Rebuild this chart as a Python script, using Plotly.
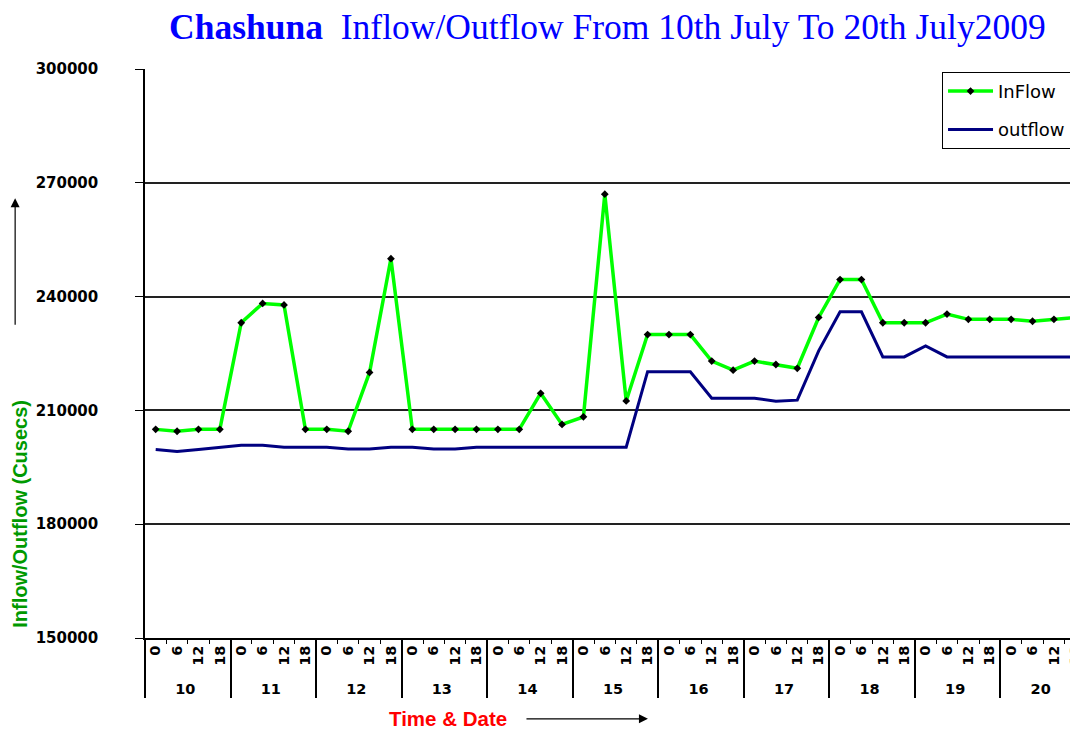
import plotly.graph_objects as go

days = [str(d) for d in range(10, 21)]
hours = ["0", "6", "12", "18"]

inflow = [
    205000, 204500, 205000, 205000,   # 10
    233100, 238200, 237800, 205000,   # 11
    205000, 204500, 220000, 250000,   # 12
    205000, 205000, 205000, 205000,   # 13
    205000, 205000, 214500, 206300,   # 14
    208300, 267000, 212500, 230000,   # 15
    230000, 230000, 223000, 220600,   # 16
    223000, 222100, 221100, 234500,   # 17
    244500, 244500, 233100, 233100,   # 18
    233100, 235400, 234000, 234000,   # 19
    234000, 233500, 234000, 234500,   # 20
]
outflow = [
    199700, 199200, 199700, 200300,   # 10
    200800, 200800, 200300, 200300,   # 11
    200300, 199800, 199800, 200300,   # 12
    200300, 199800, 199800, 200300,   # 13
    200300, 200300, 200300, 200300,   # 14
    200300, 200300, 200300, 220200,   # 15
    220200, 220200, 213200, 213200,   # 16
    213200, 212400, 212700, 225700,   # 17
    236000, 236000, 224100, 224100,   # 18
    227000, 224100, 224100, 224100,   # 19
    224100, 224100, 224100, 224100,   # 20
]
y_ticks = [150000, 180000, 210000, 240000, 270000, 300000]

x_day = [d for d in days for _ in hours]
x_hour = [h for _ in days for h in hours]

fig = go.Figure()
fig.add_trace(go.Scatter(
    x=[x_day, x_hour], y=inflow, name="InFlow", mode="lines+markers",
    legendgroup="in",
    line=dict(color="#00FF00", width=3.5),
    marker=dict(color="black", size=6, symbol="diamond"),
))
fig.add_trace(go.Scatter(
    x=[x_day, x_hour], y=outflow, name="outflow", mode="lines",
    legendgroup="out",
    line=dict(color="#000080", width=3),
))

fig.update_layout(
    width=1078, height=730,
    margin=dict(l=137, r=0, t=61, b=100, autoexpand=False),
    paper_bgcolor="white", plot_bgcolor="white",
    font=dict(family="DejaVu Sans, Arial", color="black"),
    showlegend=True,
    legend=dict(
        x=0.847, y=0.995, xanchor="left", yanchor="top",
        bordercolor="black", borderwidth=1, bgcolor="white",
        font=dict(size=18, family="DejaVu Sans, Arial"),
        itemwidth=45, tracegroupgap=12,
    ),
    title=dict(
        text="<b>Chashuna</b>  Inflow/Outflow From 10th July To 20th July2009",
        x=0.556, xanchor="center", y=0.974, yanchor="middle",
        font=dict(family="Liberation Serif, Times New Roman", size=35.5, color="#0000FF"),
    ),
)
fig.update_yaxes(
    range=[150000, 300000], tickvals=y_ticks, ticktext=[str(v) for v in y_ticks],
    showgrid=True, gridcolor="#222222", gridwidth=1.5,
    showline=True, linecolor="black", linewidth=1.5,
    ticks="outside", ticklen=8, tickcolor="black", ticklabelstandoff=34,
    tickfont=dict(size=15, family="DejaVu Sans, Arial", weight="bold"),
    zeroline=False, automargin=False,
)
fig.update_xaxes(
    type="multicategory", range=[-0.5, 43.5],
    showline=True, linecolor="black", linewidth=1.5,
    ticks="outside", ticklen=4, tickcolor="black", tickson="boundaries",
    tickangle=-90,
    tickfont=dict(size=14.5, family="DejaVu Sans, Arial", weight="bold"),
    showdividers=True, dividercolor="black", dividerwidth=1.5,
    showgrid=False, automargin=False,
)

# y-axis title and arrow
fig.add_annotation(
    text="<b>Inflow/Outflow (Cusecs)</b>", textangle=-90,
    xref="paper", yref="paper", x=-0.133, y=0.218, xanchor="center", yanchor="middle",
    showarrow=False, font=dict(size=20, color="#009900", family="Liberation Sans, Arial"),
)
fig.add_annotation(
    xref="paper", yref="paper", x=-0.138, y=0.773, ax=0, ay=128,
    showarrow=True, arrowhead=2, arrowsize=1.5, arrowwidth=1.2, arrowcolor="black", text="",
)
# x-axis title and arrow
fig.add_annotation(
    text="<b>Time & Date</b>",
    xref="paper", yref="paper", x=0.3215, y=-0.142, xanchor="center", yanchor="middle",
    showarrow=False, font=dict(size=20.5, color="#FF0000", family="Liberation Sans, Arial"),
)
fig.add_annotation(
    xref="paper", yref="paper", x=0.5345, y=-0.142, ax=-123, ay=0,
    showarrow=True, arrowhead=2, arrowsize=1.5, arrowwidth=1.2, arrowcolor="black", text="",
)

fig.write_html("out.html")
